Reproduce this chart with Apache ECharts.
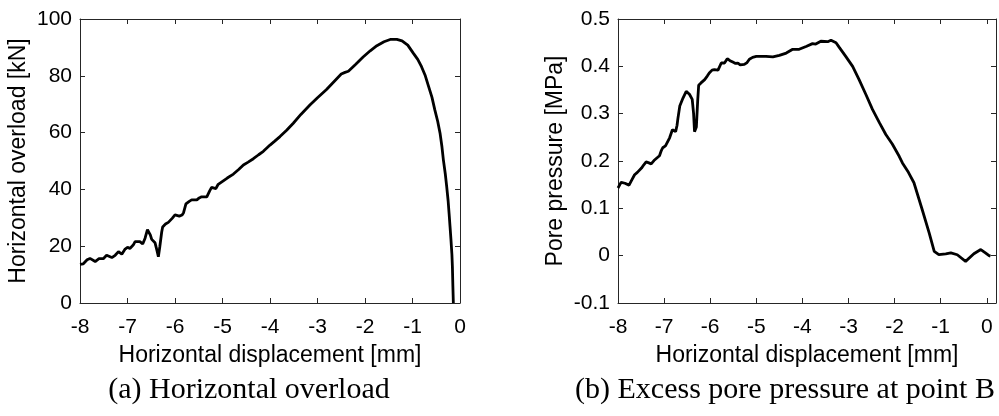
<!DOCTYPE html>
<html>
<head>
<meta charset="utf-8">
<script src="https://cdn.jsdelivr.net/npm/echarts@6/dist/echarts.min.js"></script>
<style>
html,body{margin:0;padding:0;background:#fff;}
#c{width:999px;height:416px;}
</style>
</head>
<body>
<div id="c"></div>
<script>
// ---- Data: (a) Horizontal overload ----
const dispA = [-8,-7.93,-7.85,-7.79,-7.68,-7.6,-7.51,-7.44,-7.4,-7.33,-7.26,-7.19,-7.12,-7.05,-7.0,-6.95,-6.88,-6.84,-6.74,-6.68,-6.63,-6.58,-6.56,-6.52,-6.49,-6.42,-6.38,-6.35,-6.32,-6.28,-6.26,-6.2,-6.14,-6.06,-6.0,-5.91,-5.85,-5.82,-5.77,-5.7,-5.65,-5.54,-5.49,-5.44,-5.33,-5.27,-5.23,-5.14,-5.09,-5.05,-4.9,-4.77,-4.66,-4.56,-4.46,-4.35,-4.24,-4.14,-4.0,-3.9,-3.79,-3.65,-3.51,-3.35,-3.16,-3.0,-2.81,-2.65,-2.5,-2.42,-2.35,-2.2,-2.04,-1.89,-1.75,-1.6,-1.47,-1.33,-1.22,-1.1,-0.98,-0.89,-0.81,-0.73,-0.66,-0.59,-0.53,-0.47,-0.42,-0.38,-0.35,-0.31,-0.28,-0.25,-0.23,-0.21,-0.19,-0.17,-0.16,-0.15,-0.14];
const overload = [13.6,13.8,15.2,15.7,14.6,15.6,15.6,16.8,17.3,16.0,16.8,18.1,17.2,19.0,19.6,19.2,20.4,21.6,21.6,20.8,22.8,25.8,26.2,24.0,22.4,21.2,18.5,16.3,19.8,25.0,26.8,27.8,28.4,29.8,31.0,30.6,31.0,31.8,34.9,35.8,36.3,36.3,37.0,37.4,37.4,39.5,40.7,40.3,41.8,42.5,44.0,45.4,47.0,48.6,49.6,50.8,52.2,53.4,55.6,57.0,58.6,60.8,63.3,66.4,69.7,72.3,75.2,78.0,80.6,81.2,81.6,84.0,86.6,88.8,90.6,92.0,92.8,92.8,92.3,90.8,87.9,85.8,83.2,80.0,76.2,72.4,68.0,64.0,59.8,55.0,50.4,45.5,41.0,36.0,31.6,27.0,22.2,17.0,12.8,6.0,0];

// ---- Data: (b) Excess pore pressure at point B ----
const dispB = [-8.0,-7.96,-7.93,-7.85,-7.76,-7.7,-7.64,-7.58,-7.55,-7.49,-7.44,-7.39,-7.33,-7.28,-7.22,-7.18,-7.1,-7.06,-7.03,-6.97,-6.94,-6.88,-6.82,-6.75,-6.72,-6.7,-6.66,-6.59,-6.52,-6.45,-6.39,-6.36,-6.34,-6.3,-6.27,-6.25,-6.2,-6.12,-6.06,-6.02,-5.96,-5.91,-5.83,-5.76,-5.69,-5.63,-5.57,-5.51,-5.45,-5.4,-5.35,-5.26,-5.2,-5.15,-5.08,-5.0,-4.79,-4.64,-4.5,-4.35,-4.21,-4.07,-3.92,-3.78,-3.71,-3.6,-3.45,-3.38,-3.27,-3.2,-3.06,-2.91,-2.77,-2.62,-2.48,-2.33,-2.19,-2.05,-1.9,-1.83,-1.7,-1.58,-1.4,-1.25,-1.14,-1.04,-0.89,-0.78,-0.64,-0.46,-0.28,-0.13,-0.03,0.05,0.08];
const porePressure = [0.143,0.150,0.155,0.153,0.149,0.160,0.171,0.176,0.179,0.185,0.192,0.198,0.196,0.194,0.201,0.205,0.211,0.222,0.228,0.232,0.231,0.249,0.266,0.262,0.275,0.290,0.316,0.333,0.347,0.341,0.330,0.300,0.262,0.272,0.330,0.360,0.365,0.372,0.380,0.386,0.392,0.393,0.392,0.407,0.407,0.416,0.412,0.409,0.406,0.407,0.403,0.404,0.408,0.415,0.419,0.421,0.421,0.420,0.423,0.428,0.436,0.436,0.442,0.448,0.447,0.453,0.452,0.455,0.450,0.440,0.421,0.400,0.372,0.340,0.309,0.281,0.256,0.236,0.210,0.196,0.176,0.154,0.097,0.048,0.009,0.002,0.004,0.006,0.002,-0.012,0.004,0.013,0.006,0.000,-0.001];

// ---- Labels ----
const xTitle = 'Horizontal displacement [mm]';
const yTitleA = 'Horizontal overload [kN]';
const yTitleB = 'Pore pressure [MPa]';
const captionA = '(a) Horizontal overload';
const captionB = '(b) Excess pore pressure at point B';

const zip = (xs, ys) => xs.map((x, i) => [x, ys[i]]);

const SANS = 'Liberation Sans, Arial, Helvetica, sans-serif';
const AX = '#262626';
const lineAx = { show: true, onZero: false, lineStyle: { color: AX, width: 1 } };
const tickIn = { show: true, inside: true, length: 5, lineStyle: { color: AX, width: 1 } };
const lbl = (margin, fmt) => ({ show: true, fontSize: 21, color: '#000', fontFamily: SANS, margin: margin, formatter: fmt });
const intFmt = v => (Math.abs(v - Math.round(v)) < 1e-9 ? String(Math.round(v)) : '');

function xAxes(grid, max) {
  return [
    { gridIndex: grid, type: 'value', position: 'bottom', min: -8, max: max, interval: 1,
      axisLine: lineAx, axisTick: tickIn, axisLabel: lbl(14, intFmt), splitLine: { show: false },
      name: xTitle, nameLocation: 'middle', nameGap: 41,
      nameTextStyle: { fontSize: 23, color: '#000', fontFamily: SANS } },
    { gridIndex: grid, type: 'value', position: 'top', min: -8, max: max, interval: 1,
      axisLine: lineAx, axisTick: tickIn, axisLabel: { show: false }, splitLine: { show: false } }
  ];
}
function yAxes(grid, min, max, interval, name, gap) {
  return [
    { gridIndex: grid, type: 'value', position: 'left', min: min, max: max, interval: interval,
      axisLine: lineAx, axisTick: tickIn, axisLabel: lbl(8), splitLine: { show: false },
      name: name, nameLocation: 'middle', nameGap: gap, nameRotate: 90,
      nameTextStyle: { fontSize: 23, color: '#000', fontFamily: SANS } },
    { gridIndex: grid, type: 'value', position: 'right', min: min, max: max, interval: interval,
      axisLine: lineAx, axisTick: tickIn, axisLabel: { show: false }, splitLine: { show: false } }
  ];
}

const chart = echarts.init(document.getElementById('c'), null, { renderer: 'canvas' });
chart.setOption({
  animation: false,
  backgroundColor: '#fff',
  grid: [
    { left: 80, top: 19, width: 380, height: 284 },
    { left: 618, top: 19, width: 379, height: 284 }
  ],
  xAxis: [...xAxes(0, 0), ...xAxes(1, 0.2)],
  yAxis: [...yAxes(0, 0, 100, 20, yTitleA, 50), ...yAxes(1, -0.1, 0.5, 0.1, yTitleB, 51)],
  series: [
    { type: 'line', xAxisIndex: 0, yAxisIndex: 0, data: zip(dispA, overload),
      showSymbol: false, symbol: 'none', lineStyle: { color: '#000', width: 2.8 }, z: 3 },
    { type: 'line', xAxisIndex: 2, yAxisIndex: 2, data: zip(dispB, porePressure),
      showSymbol: false, symbol: 'none', lineStyle: { color: '#000', width: 2.8 }, z: 3 }
  ],
  graphic: [
    { type: 'text', x: 249, y: 390, style: { text: captionA, font: '30px "Liberation Serif", "Times New Roman", serif', fill: '#000', textAlign: 'center', textVerticalAlign: 'middle' } },
    { type: 'text', x: 785, y: 390, style: { text: captionB, font: '30px "Liberation Serif", "Times New Roman", serif', fill: '#000', textAlign: 'center', textVerticalAlign: 'middle' } }
  ]
});
</script>
</body>
</html>
